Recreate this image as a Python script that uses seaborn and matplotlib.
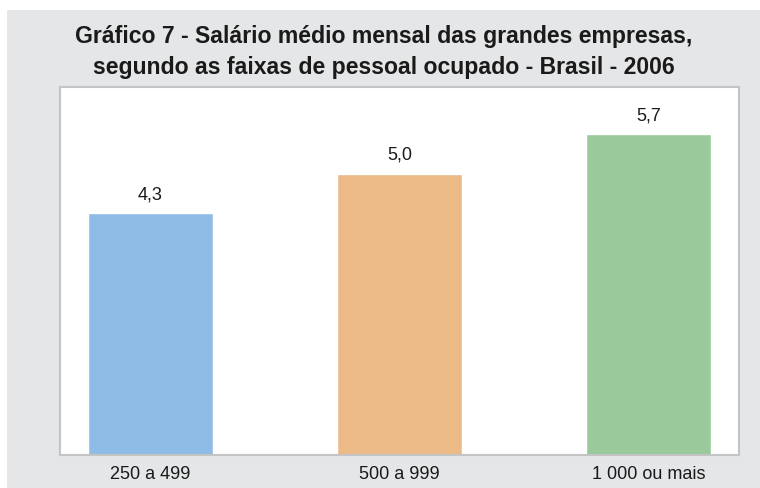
import pandas as pd
import matplotlib.pyplot as plt
import matplotlib.patches as mpatches
import seaborn as sns

faixas = ['250 a 499', '500 a 999', '1 000 ou mais']
salario = [4.3, 5.0, 5.7]
cores = ['#8ebce6', '#ebba87', '#9aca9c']
rotulos = ['4,3', '5,0', '5,7']

df = pd.DataFrame({'faixa': faixas, 'salario': salario})

sns.set_style('white')
plt.rcParams['font.family'] = ['Liberation Sans', 'DejaVu Sans']

fig = plt.figure(figsize=(7.6, 4.88), dpi=100)
fig.patch.set_facecolor('white')
bg = mpatches.Rectangle((7/760, 0), 753/760, 478/488, transform=fig.transFigure,
                        facecolor='#e5e6e7', edgecolor='none', zorder=-10)
fig.patches.append(bg)

ax = fig.add_axes([60/760, 33/488, 679/760, 368/488])
sns.barplot(data=df, x='faixa', y='salario', hue='faixa', palette=cores,
            width=0.5, legend=False, ax=ax, saturation=1)
ax.set_facecolor('white')
ax.set_xlim(-0.363, 2.363)
ax.set_ylim(0, 6.54)
ax.set_yticks([])
ax.set_xlabel('')
ax.set_ylabel('')
ax.tick_params(axis='x', length=0, pad=8, labelsize=13, labelcolor='#1a1a1a')
for s in ax.spines.values():
    s.set_color('#c4c4c4')
    s.set_linewidth(1.5)

for i, v in enumerate(salario):
    ax.annotate(rotulos[i], (i, v), xytext=(0, 7), textcoords='offset points',
                ha='center', va='bottom', fontsize=13, color='#1a1a1a')

fig.text(383.5/760, 1 - 52/488,
         'Gráfico 7 - Salário médio mensal das grandes empresas,\n'
         'segundo as faixas de pessoal ocupado - Brasil - 2006',
         ha='center', va='center', fontsize=16.6, fontweight='bold',
         color='#1a1a1a', linespacing=1.45)

fig.savefig('out.png', dpi=100)
